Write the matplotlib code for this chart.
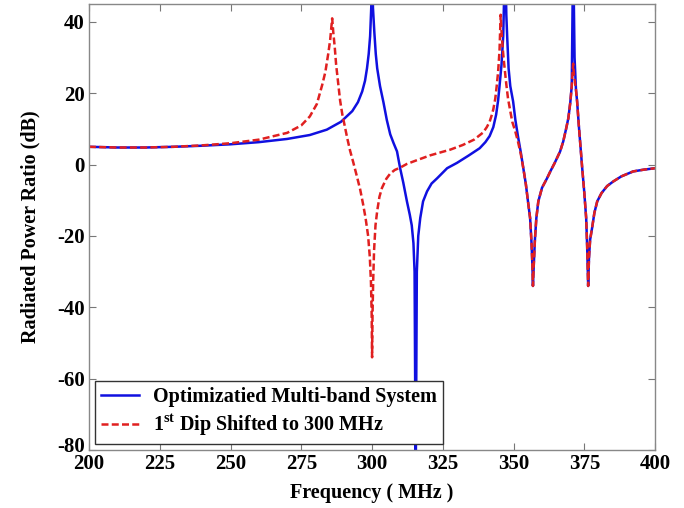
import matplotlib
matplotlib.use('Agg')
import matplotlib.pyplot as plt
import matplotlib.transforms as mtransforms

# optimized multi-band system (solid blue)
freq_opt = [200, 210, 220, 230, 240, 250, 260, 270, 278, 284, 289, 293, 295, 296.5, 297.5, 298.2,
            298.8, 299.3, 299.7, 300, 300.3, 300.8, 301.3, 301.8, 302.8, 304, 305.2, 306.4, 307.6,
            308.8, 309.9, 311, 312.3, 313.3, 314, 314.6, 315, 315.4, 315.8, 316.3, 317, 318, 319.4,
            321, 323, 326.5, 330, 334, 338, 340, 341.5, 342.8, 343.8, 344.5, 345, 345.7, 346.3,
            347, 347.4, 347.7, 348.2, 348.8, 349.8, 350.6, 351.5, 352.5, 353.4, 354.3, 355, 355.8,
            356.3, 356.6, 356.8, 357.1, 357.5, 358, 358.7, 360, 361.8, 363, 364.5, 366.4, 367.5,
            368.5, 369.3, 370, 370.5, 371, 371.5, 372, 372.4, 373, 373.6, 374.2, 374.9, 375.6,
            375.95, 376.3, 376.6, 377, 377.7, 378.5, 379.5, 381, 383, 385.2, 388, 392.2, 396, 400]
db_opt = [5.0, 4.8, 4.8, 5.0, 5.3, 5.7, 6.3, 7.2, 8.3, 9.8, 12.0, 15.0, 17.5, 20.5, 23.5, 27,
          31, 36, 44, 60, 44, 37, 31, 27, 22, 17.5, 12.5, 8.5, 6,
          3.7, -1, -5, -10.3, -14, -17, -22, -30, -90, -30, -20, -15, -10.3, -7.5,
          -5.3, -3.8, -1, 0.5, 2.5, 4.6, 6.3, 8, 10.5, 14, 18, 22, 28, 36,
          60, 42, 36, 27, 22, 17.7, 12.5, 8, 3.5, -1, -5.5, -10, -15,
          -22, -28, -34, -28, -21, -15, -10.3, -6.5, -3.8, -1.8, 0.5, 3.7, 6.5,
          10, 13, 17.5, 22, 60, 30, 21, 17.7, 11, 5, -1, -7.5, -15,
          -23, -34, -26, -21, -17.7, -13.5, -10.3, -8, -6, -4.7, -3.3, -1.9, -1.4, -1.0]

# first dip shifted to 300 MHz (dashed red)
freq_shift = [200, 210, 220, 230, 240, 250, 260, 270, 275, 278, 280.5, 282.4, 283.5, 284.5, 285.2,
              285.9, 286.3, 286.8, 287.3, 288, 288.7, 289.5, 290.3, 291.2, 292.2, 293.3, 294.7,
              295.8, 296.8, 297.7, 298.6, 299.2, 299.6, 299.85, 300, 300.15, 300.4, 300.7, 301.2,
              301.8, 302.6, 303.5, 305, 306.4, 308, 310, 312.3, 316, 320.5, 327.6, 332, 336, 339.2,
              340.5, 341.5, 342.3, 342.8, 343.5, 344, 344.5, 345, 345.4, 345.8, 346.3, 346.8, 347.4,
              348, 348.8, 349.5, 350.5, 351.5, 352.5, 353.4, 354.3, 355, 355.8, 356.3, 356.6, 356.8,
              357.1, 357.5, 358, 358.7, 360, 361.8, 363, 364.5, 366.4, 367.5, 368.5, 369.3, 370,
              370.5, 371, 371.3, 372, 372.4, 373, 373.6, 374.2, 374.9, 375.6, 375.95, 376.3, 376.6,
              377, 377.7, 378.5, 379.5, 381, 383, 385.2, 388, 392.2, 396, 400]
db_shift = [5.0, 4.8, 4.8, 5.0, 5.4, 6.0, 7.0, 8.9, 11, 13.5, 17, 22.4, 26, 31, 35,
            41, 37, 33, 28, 23, 18, 14, 11, 7.5, 4, 0.8, -3.5,
            -7, -11, -15, -20, -26, -33, -42, -54, -42, -32, -24, -17,
            -13, -9, -6.5, -4, -2.5, -1.5, -0.8, 0.2, 1.3, 2.6, 4.2, 5.5, 7, 9,
            10.5, 12, 14, 15.5, 18.5, 22, 26, 32, 42, 36, 31, 27, 22.5,
            18.5, 15, 12, 9.5, 6.5, 3, -1, -5.5, -10, -15, -22, -28, -34,
            -28, -21, -15, -10.3, -6.5, -3.8, -1.8, 0.5, 3.7, 6.5, 10, 13, 17.5,
            22, 28.3, 25, 21, 17.7, 11, 5, -1, -7.5, -15, -23, -34, -26,
            -21, -17.7, -13.5, -10.3, -8, -6, -4.7, -3.3, -1.9, -1.4, -1.0]

xticks = [200, 225, 250, 275, 300, 325, 350, 375, 400]
yticks = [-80, -60, -40, -20, 0, 20, 40]

plt.rcParams['font.family'] = 'Liberation Serif'
plt.rcParams['font.weight'] = 'bold'
plt.rcParams['axes.unicode_minus'] = False
plt.rcParams['mathtext.fontset'] = 'custom'
plt.rcParams['mathtext.rm'] = 'Liberation Serif:bold'
plt.rcParams['mathtext.bf'] = 'Liberation Serif:bold'

fig = plt.figure(figsize=(6.84, 5.08), dpi=100)
ax = fig.add_axes([0.130, 0.114, 0.828, 0.878])

ax.plot(freq_opt, db_opt, color='#1010e0', lw=1.8, label='Optimizatied Multi-band System')
ax.plot(freq_shift, db_shift, color='#e02020', lw=1.8, linestyle='--', dashes=(2.8, 1.3),
        label=r'1$^{\rm st}$ Dip Shifted to 300 MHz')

ax.set_xlim(200, 400)
ax.set_ylim(-80, 45)
ax.set_xticks(xticks)
ax.set_yticks(yticks)
ax.tick_params(direction='in', length=5, width=0.8, color='#777777', labelsize=15,
               top=True, right=True, pad=3)
for lab in ax.get_xticklabels() + ax.get_yticklabels():
    lab.set_fontweight('bold')
# lift the bottom y label a little, as in the original
ylabs = ax.get_yticklabels()
ylabs[0].set_transform(ylabs[0].get_transform() +
                       mtransforms.ScaledTranslation(0, 6 / 100, fig.dpi_scale_trans))
for s in ax.spines.values():
    s.set_color('#888888')
    s.set_linewidth(1.0)

ax.set_xlabel('Frequency ( MHz )', fontsize=14.5, fontweight='bold', labelpad=6)
ax.set_ylabel('Radiated Power Ratio (dB)', fontsize=14.5, fontweight='bold', labelpad=12)

leg = ax.legend(loc='lower left', fontsize=14.5, frameon=True, fancybox=False,
                borderaxespad=0.3, handlelength=1.9, handletextpad=0.7,
                labelspacing=0.3, borderpad=0.3)
leg.get_frame().set_edgecolor('#333333')
leg.get_frame().set_linewidth(1.0)
leg.get_frame().set_alpha(1.0)

fig.savefig('out.png', dpi=100)
